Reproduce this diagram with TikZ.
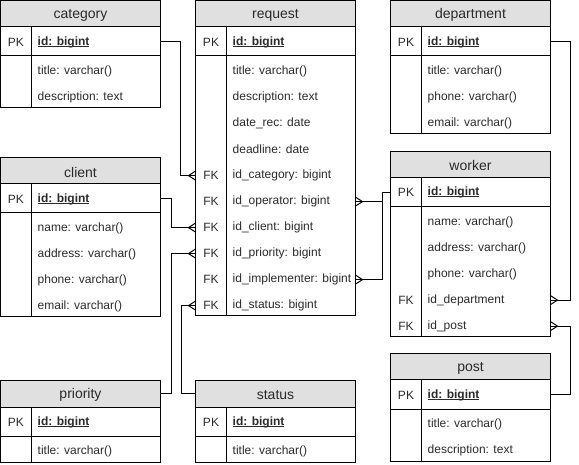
\documentclass[tikz,border=0pt]{standalone}
\usepackage{fontspec}
\setmainfont{Liberation Sans}
\usetikzlibrary{arrows.meta}

% crow's foot ("many" end of a relation): three prongs meeting the box edge
\pgfdeclarearrow{
  name = ERmany,
  setup code = {
    \pgfarrowssettipend{0pt}
    \pgfarrowssetlineend{0pt}
    \pgfarrowssetbackend{-7pt}
    \pgfarrowshullpoint{0pt}{4.5pt}
    \pgfarrowshullpoint{0pt}{-4.5pt}
    \pgfarrowshullpoint{-7pt}{0pt}
  },
  drawing code = {
    \pgfsetdash{}{0pt}
    \pgfpathmoveto{\pgfpoint{0pt}{4.5pt}}
    \pgfpathlineto{\pgfpoint{-7pt}{0pt}}
    \pgfpathlineto{\pgfpoint{0pt}{-4.5pt}}
    \pgfusepathqstroke
  },
}

\definecolor{headfill}{HTML}{E0E0E0}
\definecolor{inkgray}{HTML}{2A2A2A}

% bold key text with a rule just under the baseline
\newcommand\keyline[1]{\setbox0\hbox{#1}\rlap{\rule[-1.6pt]{\wd0}{0.8pt}}\box0}

\tikzset{
  rule/.style={draw=black, line width=1pt},
  entbox/.style={rule, anchor=north west, minimum width=160pt, inner sep=0pt, outer sep=0pt},
  enthead/.style={rule, fill=headfill, anchor=north west, minimum width=160pt,
    minimum height=26pt, inner sep=0pt, outer sep=0pt},
  headtxt/.style={inner sep=0pt, text=inkgray, font=\fontsize{14pt}{16pt}\selectfont},
  keycol/.style={inner sep=0pt, text=inkgray, font=\fontsize{12pt}{14pt}\selectfont},
  fieldtxt/.style={anchor=west, inner sep=0pt, text=inkgray, font=\fontsize{12pt}{14pt}\selectfont},
  conn/.style={draw=black, line width=1pt, -{ERmany}},
  link/.style={draw=black, line width=1pt},
}

% #1 name, #2 left x, #3 top y, #4 title, #5 number of plain rows
\newcommand\entity[5]{%
  \node[entbox, minimum height={55pt+26pt*#5}] (#1) at (#2,#3) {};
  \node[enthead] (#1-h) at (#2,#3) {};
  \node[headtxt] (#1-t) at (#2+80,#3+14) {#4};
  \draw[rule] (#2,#3+55) -- (#2+160,#3+55);
  \draw[rule] (#2+31,#3+26) -- (#2+31,#3+55+26*#5);
  \node[keycol] at (#2+15.5,#3+41) {PK};
  \node[fieldtxt] (#1-pk) at (#2+37,#3+41) {\keyline{\bfseries id: bigint}};
}
% #1 name, #2 left x of the table, #3 y, #4 key mark, #5 text
\newcommand\field[5]{%
  \node[keycol] at (#2+15.5,#3+0.6) {#4};
  \node[fieldtxt] (#1) at (#2+37,#3+0.6) {#5};
}

\begin{document}
\begin{tikzpicture}[x=1pt, y=-1pt]
\useasboundingbox (0,0) rectangle (579,465);

% category
\entity{cat}{0.5}{1}{category}{2}
\field{cat-title}{0.5}{71}{}{title: varchar()}
\field{cat-desc}{0.5}{97}{}{description: text}

% request
\entity{req}{195.5}{1}{request}{10}
\field{req-title}{195.5}{71}{}{title: varchar()}
\field{req-desc}{195.5}{97}{}{description: text}
\field{req-rec}{195.5}{123}{}{date\_rec: date}
\field{req-dl}{195.5}{149}{}{deadline: date}
\field{req-cat}{195.5}{175}{FK}{id\_category: bigint}
\field{req-op}{195.5}{201}{FK}{id\_operator: bigint}
\field{req-cli}{195.5}{227}{FK}{id\_client: bigint}
\field{req-pri}{195.5}{253}{FK}{id\_priority: bigint}
\field{req-imp}{195.5}{279}{FK}{id\_implementer: bigint}
\field{req-sta}{195.5}{305}{FK}{id\_status: bigint}

% department
\entity{dep}{390.5}{1}{department}{3}
\field{dep-title}{390.5}{71}{}{title: varchar()}
\field{dep-phone}{390.5}{97}{}{phone: varchar()}
\field{dep-mail}{390.5}{123}{}{email: varchar()}

% client
\entity{cli}{0.5}{158}{client}{4}
\field{cli-name}{0.5}{228}{}{name: varchar()}
\field{cli-addr}{0.5}{254}{}{address: varchar()}
\field{cli-phone}{0.5}{280}{}{phone: varchar()}
\field{cli-mail}{0.5}{306}{}{email: varchar()}

% worker
\entity{wrk}{390.5}{151.5}{worker}{5}
\field{wrk-name}{390.5}{221.5}{}{name: varchar()}
\field{wrk-addr}{390.5}{247.5}{}{address: varchar()}
\field{wrk-phone}{390.5}{273.5}{}{phone: varchar()}
\field{wrk-dep}{390.5}{299.5}{FK}{id\_department}
\field{wrk-pst}{390.5}{325.5}{FK}{id\_post}

% priority
\entity{pri}{0.5}{381}{priority}{1}
\field{pri-title}{0.5}{451}{}{title: varchar()}

% status
\entity{sta}{195.5}{381}{status}{1}
\field{sta-title}{195.5}{451}{}{title: varchar()}

% post
\entity{pst}{390.5}{354}{post}{2}
\field{pst-title}{390.5}{424}{}{title: varchar()}
\field{pst-desc}{390.5}{450}{}{description: text}

% relations
\draw[conn] (cat-pk -| cat.east) -- ++(20,0) |- (req-cat -| req.west);
\draw[conn] (cli-pk -| cli.east) -- ++(10.5,0) |- (req-cli -| req.west);
\draw[conn] (pri-h.east) -- ++(10.5,0) |- (req-pri -| req.west);
\draw[conn] (sta-h.west) -- ++(-14.5,0) |- (req-sta -| req.west);
\draw[link] (wrk-pk -| wrk.west) -- ++(-8,0) coordinate (wbend);
\draw[conn] (wbend) |- (req-op -| req.east);
\draw[conn] (wbend) |- (req-imp -| req.east);
\draw[conn] (dep-pk -| dep.east) -- ++(20,0) |- (wrk-dep -| wrk.east);
\draw[conn] (pst-pk -| pst.east) -- ++(20,0) |- (wrk-pst -| wrk.east);
\end{tikzpicture}
\end{document}
